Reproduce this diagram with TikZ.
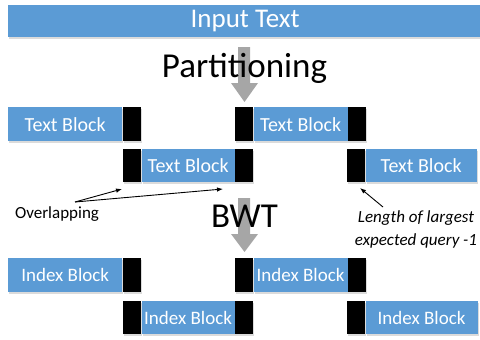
\documentclass[tikz,border=0pt]{standalone}
\usepackage{fontspec}
\setmainfont{Carlito}
\usetikzlibrary{shadows,arrows.meta}
\definecolor{blk}{HTML}{5B9BD5}
\definecolor{garr}{HTML}{A6A6A6}
\tikzset{
  shad/.style={drop shadow={shadow xshift=1pt,shadow yshift=-1.5pt,fill=black!14,opacity=1}},
  bluebox/.style={fill=blk, text=white, inner sep=0pt, anchor=north west, shad,
    font=\fontsize{20}{24}\selectfont},
  capbox/.style={fill=black, minimum width=18pt, inner sep=0pt, anchor=north west, shad},
  rowA/.style={minimum height=34pt},
  rowB/.style={minimum height=33pt},
  grayarrow/.style={fill=garr, draw=none},
  pointer/.style={draw=black, line width=0.9pt, -{Latex[length=6pt,width=4.5pt]}},
  bigtext/.style={font=\fontsize{35}{40}\selectfont, inner sep=0pt, anchor=base},
  note/.style={font=\fontsize{17}{23}\selectfont, inner sep=0pt}
}
\begin{document}
\begin{tikzpicture}[x=1pt,y=-1pt]
\useasboundingbox (0,0) rectangle (480,340);
% input bar
\node[fill=blk, text=white, inner sep=0pt, minimum width=474pt, minimum height=32pt,
  anchor=north west, shad, font=\fontsize{27}{30}\selectfont] (input) at (8,5) {Input Text};
% gray arrows
\draw[grayarrow] (238,47) -- (250,47) -- (250,83) -- (258,83) -- (244.5,102) -- (231,83) -- (238,83) -- cycle;
\draw[grayarrow] (238,198) -- (250,198) -- (250,234) -- (258,234) -- (244.5,252) -- (231,234) -- (238,234) -- cycle;
\node[bigtext] (part) at (244.5,77) {Partitioning};
\node[bigtext] (bwt) at (244.5,227) {BWT};
% row 1
\node[bluebox, rowA, minimum width=114pt] (t1) at (8,107) {Text Block};
\node[capbox, rowA] (t1r) at (t1.north east) {};
\node[capbox, rowA] (t2l) at (235,107) {};
\node[bluebox, rowA, minimum width=94pt] (t2) at (t2l.north east) {Text Block};
\node[capbox, rowA] (t2r) at (t2.north east) {};
% row 2
\node[capbox, rowB] (t3l) at (123,149) {};
\node[bluebox, rowB, minimum width=93pt] (t3) at (t3l.north east) {Text Block};
\node[capbox, rowB] (t3r) at (t3.north east) {};
\node[capbox, rowB] (t4l) at (347,149) {};
\node[bluebox, rowB, minimum width=111pt] (t4) at (t4l.north east) {Text Block};
% row 3
\node[bluebox, rowA, minimum width=114pt, font=\fontsize{19}{23}\selectfont] (i1) at (8,258) {Index Block};
\node[capbox, rowA] (i1r) at (i1.north east) {};
\node[capbox, rowA] (i2l) at (235,258) {};
\node[bluebox, rowA, minimum width=94pt, font=\fontsize{19}{23}\selectfont] (i2) at (i2l.north east) {Index Block};
\node[capbox, rowA] (i2r) at (i2.north east) {};
% row 4
\node[capbox, rowB] (i3l) at (123,301) {};
\node[bluebox, rowB, minimum width=93pt, font=\fontsize{19}{23}\selectfont] (i3) at (i3l.north east) {Index Block};
\node[capbox, rowB] (i3r) at (i3.north east) {};
\node[capbox, rowB] (i4l) at (347,301) {};
\node[bluebox, rowB, minimum width=112pt, font=\fontsize{19}{23}\selectfont] (i4) at (i4l.north east) {Index Block};
% notes
\node[note, anchor=base] (ovl) at (57,218) {Overlapping};
\node[note, align=center, font=\fontsize{17}{23}\selectfont\itshape] (len) at (416,229) {Length of largest\\expected query -1};
\coordinate (ovs) at (75,202);
\coordinate (ovt1) at (122,189);
\coordinate (ovt2) at (223,189);
\coordinate (lens) at (383,207);
\coordinate (lent) at (360,188);
\draw[pointer] (ovs) -- (ovt1);
\draw[pointer] (ovs) -- (ovt2);
\draw[pointer] (lens) -- (lent);
\end{tikzpicture}
\end{document}
